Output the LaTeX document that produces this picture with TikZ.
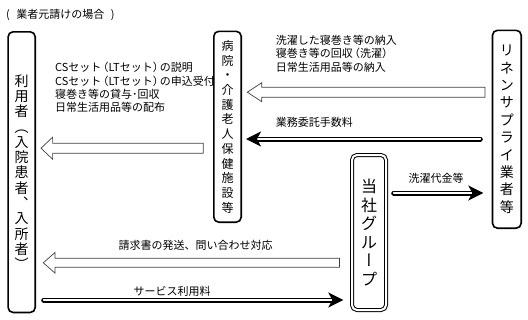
\documentclass[tikz,border=0pt]{standalone}
\usepackage{fontspec}
\setmainfont{Noto Sans CJK JP}
\newfontfamily\vertfont[RawFeature=+vert]{Noto Sans CJK JP}
\usetikzlibrary{arrows.meta,calc}
\newcommand{\fatleft}[5]{\draw[hollowarrow] let \p1=(#1), \p2=(#2) in (\x2,\y1+#3) -- (\x1+#5,\y1+#3) -- (\x1+#5,\y1+#4) -- (\x1,\y1) -- (\x1+#5,\y1-#4) -- (\x1+#5,\y1-#3) -- (\x2,\y1-#3) -- cycle;}
\newcommand{\lpar}{\kern-3.8pt（}
\newcommand{\rpar}{）\kern-3.8pt}
\begin{document}
\lineskiplimit=-100pt
\begin{tikzpicture}[x=1pt,y=-1pt,
  box/.style={draw, line width=1.6pt, rounded corners=5pt, inner sep=0pt, outer sep=0pt, align=center},
  dbox/.style={draw, line width=1pt, double, double distance=2pt, rounded corners=5pt, inner sep=0pt, outer sep=0pt, align=center},
  hollowarrow/.style={draw=black!75, line width=0.7pt, fill=white, line join=miter},
  dblarrow/.style={draw, line width=1.6pt, double=white, double distance=1.8pt, line cap=round, -{Stealth[length=15pt,width=15pt,inset=4pt]}},
  lbl/.style={inner sep=0pt, anchor=west, align=left, font=\fontsize{11}{13.4}\selectfont}]
\useasboundingbox (0,0) rectangle (528,319);

% boxes
\node[box, minimum width=27.1pt, minimum height=280.7pt, font=\fontsize{14}{15.3}\selectfont] (user) at (21.65,172.15)
  {利\\用\\者\\︵\\入\\院\\患\\者\\︑\\入\\所\\者\\︶};
\node[box, minimum width=27.4pt, minimum height=190.9pt, font=\fontsize{12}{14.7}\selectfont] (hosp) at (227.5,126.75)
  {病\\院\\・\\介\\護\\老\\人\\保\\健\\施\\設\\等};
\node[box, minimum width=28.7pt, minimum height=197.9pt, font=\fontsize{14}{17.4}\selectfont] (linen) at (506.85,129.25)
  {リ\\ネ\\ン\\サ\\プ\\ラ\\イ\\業\\者\\等};
\node[dbox, minimum width=34pt, minimum height=155pt, font=\fontsize{16}{18.6}\selectfont] (group) at (369,232.5)
  {当\\社\\グ\\ル\\{\vertfont ー}\\プ};

% title
\node[lbl, font=\fontsize{11}{13}\selectfont] (title) at (6,15) {(\hspace{6.5pt}業者元請けの場合\hspace{6.5pt})};

% labels
\node[lbl] (txtA) at (55,87.5) {CSセット\lpar LTセット\rpar の説明\\CSセット\lpar LTセット\rpar の申込受付\\寝巻き等の貸与･回収\\日常生活用品等の配布};
\node[lbl] (txtB) at (275.7,53.7) {洗濯した寝巻き等の納入\\寝巻き等の回収\lpar 洗濯\rpar\\日常生活用品等の納入};
\node[lbl] (txtC) at (275.7,122) {業務委託手数料};
\node[lbl] (txtD) at (408.3,178.5) {洗濯代金等};
\node[lbl] (txtE) at (118.3,245.7) {請求書の発送、問い合わせ対応};
\node[lbl] (txtF) at (133.3,291.7) {サービス利用料};

% hollow arrows
\coordinate (a1tip) at ($(hosp.east|-0,92.2)+(6.1,0)$);
\coordinate (a1tail) at ($(linen.west|-0,92.2)+(-7.5,0)$);
\fatleft{a1tip}{a1tail}{5pt}{9.5pt}{14.5pt}
\coordinate (a2tip) at ($(user.east|-0,148.2)+(5.8,0)$);
\coordinate (a2tail) at ($(hosp.west|-0,148.2)+(-10.5,0)$);
\fatleft{a2tip}{a2tail}{5pt}{11pt}{11.6pt}
\coordinate (a3tip) at ($(user.east|-0,262.8)+(8.1,0)$);
\coordinate (a3tail) at ($(group.west|-0,262.8)+(-12.5,0)$);
\fatleft{a3tip}{a3tail}{4.5pt}{10.3pt}{11.7pt}

% filled double arrows
\draw[dblarrow] ($(linen.west|-0,139)+(-12.2,0)$) -- ($(hosp.east|-0,139)+(4.8,0)$);
\draw[dblarrow] ($(group.east|-0,193)+(7.7,0)$) -- ($(linen.west|-0,193)+(-9.2,0)$);
\draw[dblarrow] ($(user.east|-0,300)+(8.5,0)$) -- ($(group.west|-0,300)+(-8.7,0)$);
\end{tikzpicture}
\end{document}
